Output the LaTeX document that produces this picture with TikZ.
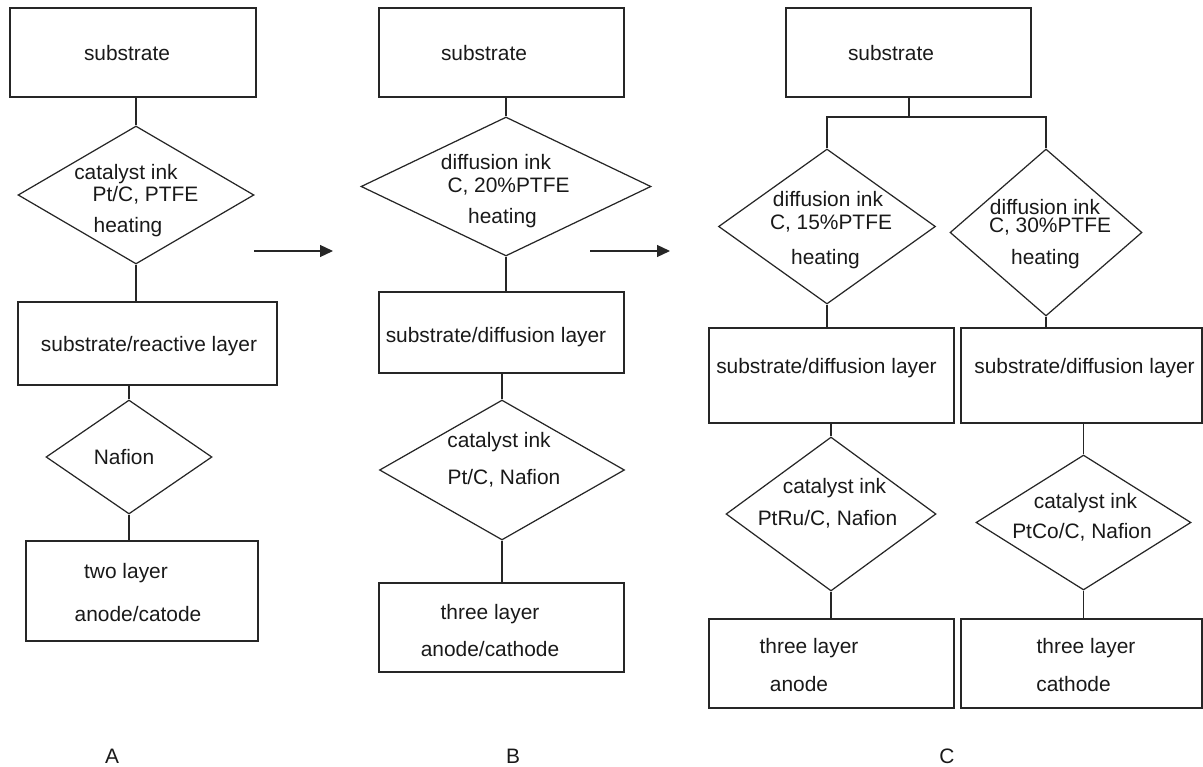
\documentclass[tikz,border=0pt]{standalone}
\usepackage{fontspec}
\setmainfont{Liberation Sans}
\usetikzlibrary{shapes.geometric, arrows.meta}
\newcommand{\pxl}{0.2mm}

\begin{document}
\begin{tikzpicture}[x=0.02cm, y=-0.02cm, line width=0.7pt,
		box/.style = {draw=black!85, rectangle, inner sep=0pt},
		dia/.style = {draw=black!85, diamond, inner sep=0pt},
		txt/.style = {inner sep=0pt, text=black!90, font=\fontsize{11.9}{14}\selectfont},
		flow/.style = {-{Triangle[length=2.6mm, width=2.4mm]}}]
		\useasboundingbox (0,0) rectangle (1203,767);
		%%%%%%%%%%%%% column A
		\node[box, minimum width=246*\pxl, minimum height=89*\pxl] (sA) at (133,52.5) {};
		\node[dia, minimum width=236*\pxl, minimum height=138*\pxl] (dA1) at (136,195) {};
		\node[box, minimum width=259*\pxl, minimum height=83*\pxl] (bA2) at (147.5,343.5) {};
		\node[dia, minimum width=166*\pxl, minimum height=114*\pxl] (dA3) at (129,457) {};
		\node[box, minimum width=232*\pxl, minimum height=100*\pxl] (bA4) at (142,591) {};
		\node[txt] (tsA) at (127,53) {substrate};
		\node[txt] (tA1a) at (126,174) {catalyst ink};
		\node[txt] (tA1b) at (145.5,195) {Pt/C, PTFE};
		\node[txt] (tA1c) at (128,227) {heating};
		\node[txt] (tA2) at (149,346) {substrate/reactive layer};
		\node[txt] (tA3) at (124,457) {Nafion};
		\node[txt] (tA4a) at (126,573) {two layer};
		\node[txt] (tA4b) at (138,614) {anode/catode};
		\node[txt] (capA) at (112,756) {A};
		%%%%%%%%%%%%% column B
		\node[box, minimum width=245*\pxl, minimum height=89*\pxl] (sB) at (501.5,52.5) {};
		\node[dia, minimum width=290*\pxl, minimum height=139*\pxl] (dB1) at (506,186.5) {};
		\node[box, minimum width=245*\pxl, minimum height=81*\pxl] (bB2) at (501.5,332.5) {};
		\node[dia, minimum width=245*\pxl, minimum height=140*\pxl] (dB3) at (502,470) {};
		\node[box, minimum width=245*\pxl, minimum height=89*\pxl] (bB4) at (501.5,627.5) {};
		\node[txt] (tsB) at (484,53) {substrate};
		\node[txt] (tB1a) at (496,162) {diffusion ink};
		\node[txt] (tB1b) at (508.5,187) {C, 20\%PTFE};
		\node[txt] (tB1c) at (502.5,218) {heating};
		\node[txt] (tB2) at (496,337) {substrate/diffusion layer};
		\node[txt] (tB3a) at (499,442) {catalyst ink};
		\node[txt] (tB3b) at (504,478) {Pt/C, Nafion};
		\node[txt] (tB4a) at (490,614) {three layer};
		\node[txt] (tB4b) at (490,649) {anode/cathode};
		\node[txt] (capB) at (513,756) {B};
		%%%%%%%%%%%%% column C
		\node[box, minimum width=245*\pxl, minimum height=89*\pxl] (sC) at (908.5,52.5) {};
		\coordinate (split) at (909,117);
		\node[dia, minimum width=217*\pxl, minimum height=155*\pxl] (dC1L) at (827,226.5) {};
		\node[dia, minimum width=192*\pxl, minimum height=167*\pxl] (dC1R) at (1046,232.5) {};
		\node[box, minimum width=245*\pxl, minimum height=95*\pxl] (bC2L) at (831.5,375.5) {};
		\node[box, minimum width=241*\pxl, minimum height=95*\pxl] (bC2R) at (1081.5,375.5) {};
		\node[dia, minimum width=210*\pxl, minimum height=154*\pxl] (dC3L) at (831,514) {};
		\node[dia, minimum width=215*\pxl, minimum height=135*\pxl] (dC3R) at (1083.5,522.5) {};
		\node[box, minimum width=245*\pxl, minimum height=89*\pxl] (bC4L) at (831.5,663.5) {};
		\node[box, minimum width=241*\pxl, minimum height=89*\pxl] (bC4R) at (1081.5,663.5) {};
		\node[txt] (tsC) at (891,53) {substrate};
		\node[txt] (tC1La) at (828,199) {diffusion ink};
		\node[txt] (tC1Lb) at (831,224) {C, 15\%PTFE};
		\node[txt] (tC1Lc) at (825.5,259) {heating};
		\node[txt] (tC1Ra) at (1045,207) {diffusion ink};
		\node[txt] (tC1Rb) at (1050,227) {C, 30\%PTFE};
		\node[txt] (tC1Rc) at (1045.5,259) {heating};
		\node[txt] (tC2L) at (826.5,368) {substrate/diffusion layer};
		\node[txt] (tC2R) at (1084.5,368) {substrate/diffusion layer};
		\node[txt] (tC3La) at (834.5,488) {catalyst ink};
		\node[txt] (tC3Lb) at (827.5,519) {PtRu/C, Nafion};
		\node[txt] (tC3Ra) at (1085.5,503) {catalyst ink};
		\node[txt] (tC3Rb) at (1082,532) {PtCo/C, Nafion};
		\node[txt] (tC4La) at (809,648) {three layer};
		\node[txt] (tC4Lb) at (799,684) {anode};
		\node[txt] (tC4Ra) at (1086,648) {three layer};
		\node[txt] (tC4Rb) at (1073.5,684) {cathode};
		\node[txt] (capC) at (947,756) {C};
		%%%%%%%%%%%%% arrows between columns
		\coordinate (a1s) at (254,251); \coordinate (a1e) at (333,251);
		\coordinate (a2s) at (590,251); \coordinate (a2e) at (670,251);
		%%%%%%%%%%%%%
		\begin{scope}[draw=black!85]
		\draw (dA1.north) -- (dA1.north |- sA.south); \draw (dA1.south) -- (dA1.south |- bA2.north);
		\draw (dA3.north) -- (dA3.north |- bA2.south); \draw (dA3.south) -- (dA3.south |- bA4.north);
		\draw (dB1.north) -- (dB1.north |- sB.south); \draw (dB1.south) -- (dB1.south |- bB2.north);
		\draw (dB3.north) -- (dB3.north |- bB2.south); \draw (dB3.south) -- (dB3.south |- bB4.north);
		\draw (split |- sC.south) -- (split);
		\draw (dC1L.north) |- (split) -| (dC1R.north);
		\draw (dC1L.south) -- (dC1L.south |- bC2L.north); \draw (dC1R.south) -- (dC1R.south |- bC2R.north);
		\draw (dC3L.north) -- (dC3L.north |- bC2L.south); \draw (dC3L.south) -- (dC3L.south |- bC4L.north);
		\draw (dC3R.north) -- (dC3R.north |- bC2R.south); \draw (dC3R.south) -- (dC3R.south |- bC4R.north);
		\draw [flow] (a1s) -- (a1e);
		\draw [flow] (a2s) -- (a2e);
		\end{scope}
\end{tikzpicture}
\end{document}
